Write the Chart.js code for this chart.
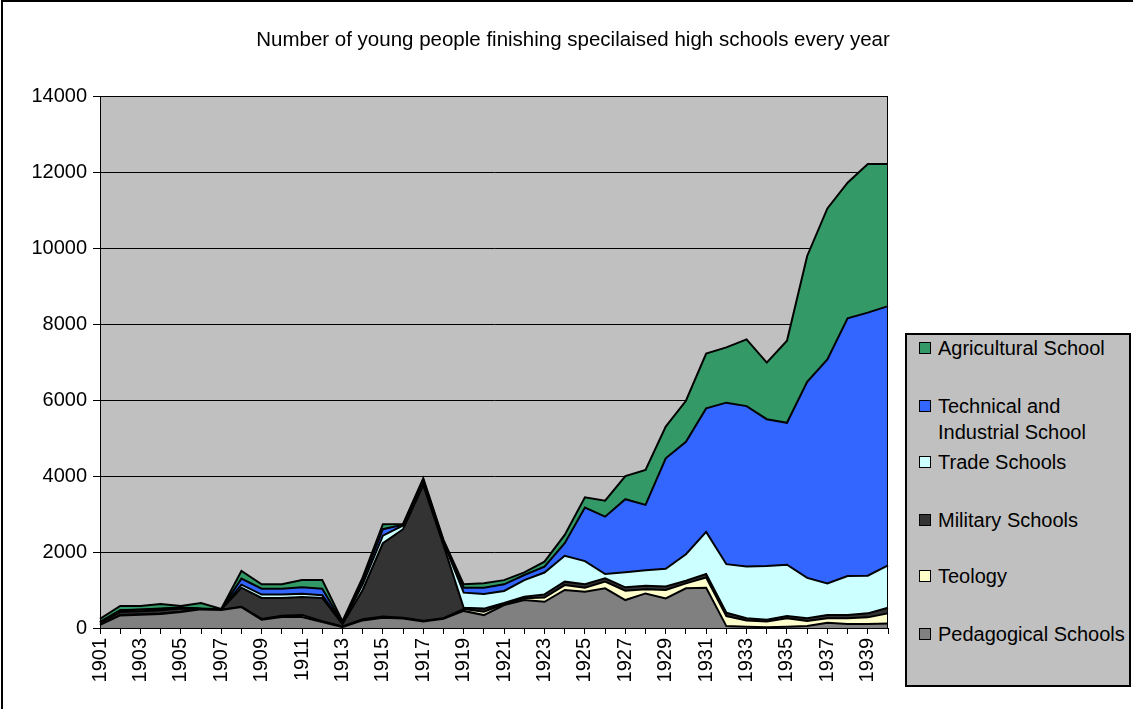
<!DOCTYPE html>
<html>
<head>
<meta charset="utf-8">
<title>Specialised high schools</title>
<script src="https://cdn.jsdelivr.net/npm/chart.js@4/dist/chart.umd.min.js"></script>
<style>
  body { margin: 0; background: #fff; font-family: "Liberation Sans", Arial, sans-serif; }
  #wrap { position: relative; width: 1133px; height: 709px; overflow: hidden; }
  #frame { position: absolute; left: 1px; top: 0; right: 0; bottom: 0; border-left: 2px solid #000; border-top: 2px solid #000; pointer-events: none; }
  #title { position: absolute; left: 100px; width: 946px; top: 27px; text-align: center; font-size: 20.5px; color: #000; }
  #legend { position: absolute; left: 905px; top: 333px; width: 226px; height: 354px; box-sizing: border-box; border: 2px solid #000; background: #c0c0c0; }
  #legend .item { position: absolute; left: 31px; font-size: 20px; line-height: 26px; color: #000; white-space: nowrap; }
  #legend .swatch { position: absolute; left: -19px; top: 7px; width: 12px; height: 12px; box-sizing: border-box; border: 1px solid #000; }
</style>
</head>
<body>
<div id="wrap">
  <canvas id="chart" width="1133" height="709"></canvas>
  <div id="title">Number of young people finishing specilaised high schools every year</div>
  <div id="legend"></div>
  <div id="frame"></div>
</div>
<script>
// graduates per year, by school type (stacked from the bottom up)
const years = [1901, 1902, 1903, 1904, 1905, 1906, 1907, 1908, 1909, 1910,
  1911, 1912, 1913, 1914, 1915, 1916, 1917, 1918, 1919, 1920,
  1921, 1922, 1923, 1924, 1925, 1926, 1927, 1928, 1929, 1930,
  1931, 1932, 1933, 1934, 1935, 1936, 1937, 1938, 1939, 1940];

const pedagogical = [80, 330, 350, 370, 420, 490, 475, 550, 220, 290,
  290, 160, 25, 200, 270, 250, 170, 240, 450, 340,
  605, 735, 690, 1000, 955, 1045, 735, 910, 780, 1045,
  1060, 50, 35, 20, 35, 50, 140, 105, 105, 120];

const teology = [10, 10, 10, 10, 10, 5, 5, 10, 20, 30,
  50, 20, 15, 30, 30, 20, 20, 20, 50, 90,
  25, 45, 110, 130, 105, 175, 245, 110, 220, 130,
  270, 265, 160, 150, 220, 135, 115, 150, 175, 265];

const military = [50, 80, 80, 90, 80, 5, 5, 500, 550, 470,
  475, 610, 60, 770, 1930, 2330, 3570, 1920, 30, 80,
  30, 45, 85, 90, 90, 85, 90, 95, 90, 70,
  90, 85, 60, 45, 60, 70, 85, 85, 105, 150];

const trade = [10, 40, 40, 30, 20, 5, 5, 80, 90, 90,
  85, 70, 20, 150, 200, 100, 90, 70, 400, 385,
  315, 435, 575, 680, 610, 115, 400, 405, 470, 695,
  1110, 1280, 1365, 1415, 1350, 1065, 835, 1030, 990, 1115];

const technical = [10, 10, 10, 10, 10, 5, 5, 160, 155, 155,
  170, 175, 20, 100, 170, 20, 50, 40, 130, 165,
  175, 135, 155, 330, 1410, 1510, 1920, 1720, 2905, 2960,
  3250, 4250, 4220, 3865, 3735, 5160, 5895, 6780, 6925, 6820];

const agricultural = [80, 110, 90, 120, 40, 150, 5, 200, 115, 115,
  190, 225, 40, 80, 130, 20, 40, 30, 90, 115,
  110, 70, 130, 220, 270, 420, 610, 920, 835, 1080,
  1440, 1455, 1755, 1490, 2160, 3310, 3970, 3570, 3910, 3740];

const yTicks = [0, 2000, 4000, 6000, 8000, 10000, 12000, 14000];

const series = [
  { label: 'Pedagogical Schools', data: pedagogical, color: '#808080' },
  { label: 'Teology', data: teology, color: '#ffffcc' },
  { label: 'Military Schools', data: military, color: '#333333' },
  { label: 'Trade Schools', data: trade, color: '#ccffff' },
  { label: 'Technical and Industrial School', data: technical, color: '#3366ff' },
  { label: 'Agricultural School', data: agricultural, color: '#339966' }
];

const fontFamily = '"Liberation Sans", Arial, sans-serif';

// grey plot background and the black frame round it
const plotFrame = {
  id: 'plotFrame',
  beforeDraw(chart) {
    const a = chart.chartArea;
    const ctx = chart.ctx;
    ctx.save();
    ctx.fillStyle = '#c0c0c0';
    ctx.fillRect(a.left, a.top, a.right - a.left, a.bottom - a.top);
    ctx.restore();
  },
  afterDatasetsDraw(chart) {
    const a = chart.chartArea;
    const ctx = chart.ctx;
    ctx.save();
    ctx.strokeStyle = '#000';
    ctx.lineWidth = 1;
    ctx.strokeRect(a.left + 0.5, a.top + 0.5, a.right - a.left - 1, a.bottom - a.top);
    ctx.restore();
  }
};

document.addEventListener('DOMContentLoaded', () => {
  const ctx = document.getElementById('chart').getContext('2d');

  new Chart(ctx, {
    type: 'line',
    data: {
      labels: years,
      datasets: series.map((s, i) => ({
        label: s.label,
        data: s.data,
        backgroundColor: s.color,
        borderColor: '#000',
        borderWidth: 2,
        pointRadius: 0,
        tension: 0,
        fill: i === 0 ? 'origin' : '-1'
      }))
    },
    options: {
      responsive: false,
      animation: false,
      layout: { padding: { top: 96, right: 245, left: 0, bottom: 0 } },
      plugins: {
        legend: { display: false },
        tooltip: { enabled: false }
      },
      scales: {
        x: {
          offset: false,
          grid: { drawOnChartArea: false, color: '#000', tickLength: 6 },
          border: { color: '#000', width: 1 },
          ticks: {
            autoSkip: false,
            maxRotation: 90,
            minRotation: 90,
            padding: 4,
            color: '#000',
            font: { family: fontFamily, size: 20 },
            callback: (v, i) => (i % 2 === 0 ? String(years[i]) : '')
          },
          afterFit: (s) => { s.height = 81; }
        },
        y: {
          stacked: true,
          min: yTicks[0],
          max: yTicks[yTicks.length - 1],
          afterBuildTicks: (s) => { s.ticks = yTicks.map(v => ({ value: v })); },
          grid: { color: '#000', tickLength: 7 },
          border: { color: '#000', width: 1 },
          ticks: {
            padding: 6,
            color: '#000',
            font: { family: fontFamily, size: 20 },
            callback: (v) => String(v)
          },
          afterFit: (s) => { s.width = 100; }
        }
      }
    },
    plugins: [plotFrame]
  });

  // legend box, top entry is the top layer
  const legend = document.getElementById('legend');
  const tops = [0, 58, 114, 172, 228, 286];
  const names = ['Agricultural School', 'Technical and<br>Industrial School', 'Trade Schools',
    'Military Schools', 'Teology', 'Pedagogical Schools'];
  series.slice().reverse().forEach((s, i) => {
    const item = document.createElement('div');
    item.className = 'item';
    item.style.top = tops[i] + 'px';
    item.innerHTML = `<span class="swatch" style="background:${s.color}"></span>${names[i]}`;
    legend.appendChild(item);
  });
});
</script>
</body>
</html>
